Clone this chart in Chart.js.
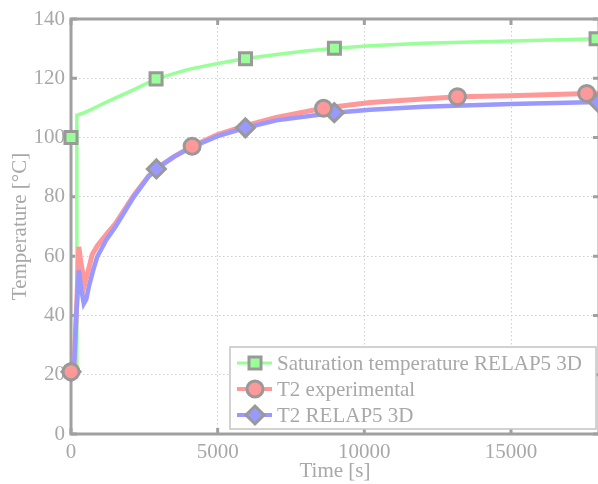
<!DOCTYPE html>
<html>
<head>
<meta charset="utf-8">
<script src="https://cdn.jsdelivr.net/npm/chart.js@4/dist/chart.umd.min.js"></script>
<style>
  html, body { margin: 0; padding: 0; background: #fff; overflow: hidden; }
  #wrap { width: 598px; height: 484px; overflow: hidden; }
</style>
</head>
<body>
<div id="wrap"><canvas id="timeline" width="600" height="484"></canvas></div>
<script>
// saturation temperature RELAP5 3D (line)
let satTime = [0, 190, 200, 400, 700, 1000, 1500, 2000, 2900, 4000, 5000, 5900, 7000, 8000, 9000, 10200, 12000, 15000, 18000]
let satTemp = [21, 22, 107.5, 108.2, 109.5, 111, 113.3, 115.5, 119.8, 123, 125, 126.6, 128, 129.2, 130.1, 131, 131.8, 132.6, 133.3]
// T2 experimental (line)
let expTime = [0, 100, 200, 265, 350, 470, 600, 720, 900, 1200, 1515, 2140, 2640, 2900, 3500, 4130, 5000, 5950, 7000, 8600, 10200, 12000, 13200, 15000, 17600, 18000]
let expTemp = [21, 22, 45, 63.1, 57, 50.7, 55.5, 60.5, 63.5, 67.3, 71, 80.5, 87, 89.5, 93.5, 97.1, 101, 104, 106.8, 109.9, 111.8, 113, 113.8, 114.1, 114.9, 115]
// T2 RELAP5 3D (line)
let relTime = [0, 100, 180, 265, 350, 436, 520, 606, 750, 890, 1200, 1515, 2140, 2640, 2900, 3500, 4130, 5000, 5950, 7000, 8975, 10200, 12000, 15000, 18000]
let relTemp = [21, 22, 40, 55.2, 49, 44, 45.5, 49.6, 55, 59.7, 65.5, 69.9, 80, 86.8, 89.4, 93.5, 96.8, 100.5, 103.3, 105.8, 108.4, 109.4, 110.4, 111.3, 112]

// markers
let satMarkTime = [0, 2900, 5950, 8980, 17900]
let satMarkTemp = [100, 119.8, 126.6, 130.1, 133.3]
let expMarkTime = [0, 4130, 8610, 13175, 17580]
let expMarkTemp = [21, 97.1, 109.9, 113.8, 114.9]
let relMarkTime = [0, 2910, 5945, 8975, 17970]
let relMarkTemp = [21, 89.4, 103.3, 108.4, 111.9]

let xTicks = [0, 5000, 10000, 15000]
let yTicks = [0, 20, 40, 60, 80, 100, 120, 140]
let legendNames = ['Saturation temperature RELAP5 3D', 'T2 experimental', 'T2 RELAP5 3D']

const GREEN = '#99ff99'
const RED = '#ff9999'
const BLUE = '#9999ff'
const FRAME = '#a0a0a0'
const TEXT = '#a8a8a8'
const FONT = '"Liberation Serif", "Times New Roman", serif'
const FSIZE = 21

function pts(xs, ys){
    return xs.map((x, i) => ({x: x, y: ys[i]}))
}

function lineSet(xs, ys, color, width, order){
    return {
        data: pts(xs, ys),
        borderColor: color,
        backgroundColor: color,
        borderWidth: width,
        pointRadius: 0,
        showLine: true,
        tension: 0,
        order: order
    }
}

function markSet(xs, ys, color, style, radius){
    return {
        data: pts(xs, ys),
        showLine: false,
        pointStyle: style,
        pointRadius: radius,
        pointHoverRadius: radius,
        pointBackgroundColor: color,
        pointBorderColor: '#999999',
        pointBorderWidth: 3,
        clip: false,
        order: 0
    }
}

// frame, inward ticks, legend
let framePlugin = {
    id: 'frame',
    beforeDatasetsDraw(chart){
        let ctx = chart.ctx
        let a = chart.chartArea
        let xs = chart.scales.x
        let ys = chart.scales.y
        ctx.save()
        ctx.strokeStyle = FRAME
        ctx.lineWidth = 3
        ctx.beginPath()
        xTicks.forEach(v => {
            let px = xs.getPixelForValue(v)
            ctx.moveTo(px, a.bottom); ctx.lineTo(px, a.bottom - 6)
            ctx.moveTo(px, a.top); ctx.lineTo(px, a.top + 6)
        })
        yTicks.forEach(v => {
            let py = ys.getPixelForValue(v)
            ctx.moveTo(a.left, py); ctx.lineTo(a.left + 6, py)
            ctx.moveTo(a.right, py); ctx.lineTo(a.right - 6, py)
        })
        ctx.stroke()
        ctx.strokeRect(a.left, a.top, a.right - a.left, a.bottom - a.top)
        ctx.restore()
    },
    afterDraw(chart){
        let ctx = chart.ctx
        ctx.save()
        let bx = 230, by = 347, bw = 366, bh = 82
        ctx.fillStyle = '#ffffff'
        ctx.fillRect(bx, by, bw, bh)
        ctx.strokeStyle = '#c4c4c4'
        ctx.lineWidth = 1.5
        ctx.strokeRect(bx, by, bw, bh)
        let colors = [GREEN, RED, BLUE]
        let widths = [3, 4, 4]
        let rows = [363, 389, 415]
        ctx.font = FSIZE + 'px ' + FONT
        ctx.textBaseline = 'middle'
        rows.forEach((ry, i) => {
            ctx.strokeStyle = colors[i]
            ctx.lineWidth = widths[i]
            ctx.beginPath()
            ctx.moveTo(237, ry); ctx.lineTo(272, ry)
            ctx.stroke()
            ctx.fillStyle = colors[i]
            ctx.strokeStyle = '#999999'
            ctx.lineWidth = 3
            ctx.beginPath()
            if (i === 0) {
                ctx.rect(255 - 6, ry - 6, 12, 12)
            } else if (i === 1) {
                ctx.arc(255, ry, 8, 0, Math.PI * 2)
            } else {
                ctx.moveTo(255, ry - 9); ctx.lineTo(264, ry); ctx.lineTo(255, ry + 9); ctx.lineTo(246, ry); ctx.closePath()
            }
            ctx.fill()
            ctx.stroke()
            ctx.fillStyle = TEXT
            ctx.fillText(legendNames[i], 277, ry + 1)
        })
        ctx.restore()
    }
}

let ctx = document.getElementById('timeline').getContext('2d')

let myChart = new Chart(ctx, {
    type: 'scatter',
    data: {
        datasets: [
            markSet(satMarkTime, satMarkTemp, GREEN, 'rect', 8.5),
            markSet(expMarkTime, expMarkTemp, RED, 'circle', 8),
            markSet(relMarkTime, relMarkTemp, BLUE, 'rectRot', 9),
            lineSet(relTime, relTemp, BLUE, 4.5, 1),
            lineSet(expTime, expTemp, RED, 5, 2),
            lineSet(satTime, satTemp, GREEN, 3.5, 3)
        ]
    },
    options: {
        responsive: false,
        animation: false,
        events: [],
        layout: { autoPadding: false, padding: { top: 19, right: 1, left: 0, bottom: 0 } },
        plugins: { legend: { display: false }, tooltip: { enabled: false } },
        scales: {
            x: {
                type: 'linear',
                min: 0,
                max: 18000,
                afterBuildTicks: s => { s.ticks = xTicks.map(v => ({value: v})) },
                afterFit: s => { s.height = 50; s.paddingLeft = 0; s.paddingRight = 0 },
                grid: { color: '#cfcfcf', lineWidth: 1, drawTicks: false },
                border: { display: false, dash: [1.5, 2.5] },
                ticks: { color: TEXT, font: { family: FONT, size: FSIZE }, padding: 6, maxRotation: 0, callback: v => String(v) },
                title: { display: true, text: 'Time [s]', color: TEXT, font: { family: FONT, size: FSIZE }, padding: { top: 0, bottom: 0 } }
            },
            y: {
                min: 0,
                max: 140,
                afterBuildTicks: s => { s.ticks = yTicks.map(v => ({value: v})) },
                afterFit: s => { s.width = 71; s.paddingTop = 0; s.paddingBottom = 0 },
                grid: { color: '#cfcfcf', lineWidth: 1, drawTicks: false },
                border: { display: false, dash: [1.5, 2.5] },
                ticks: { color: TEXT, font: { family: FONT, size: FSIZE }, padding: 6, callback: v => String(v) },
                title: { display: true, text: 'Temperature [°C]', color: TEXT, font: { family: FONT, size: FSIZE }, padding: { top: 8, bottom: 0 } }
            }
        }
    },
    plugins: [framePlugin]
})
</script>
</body>
</html>
